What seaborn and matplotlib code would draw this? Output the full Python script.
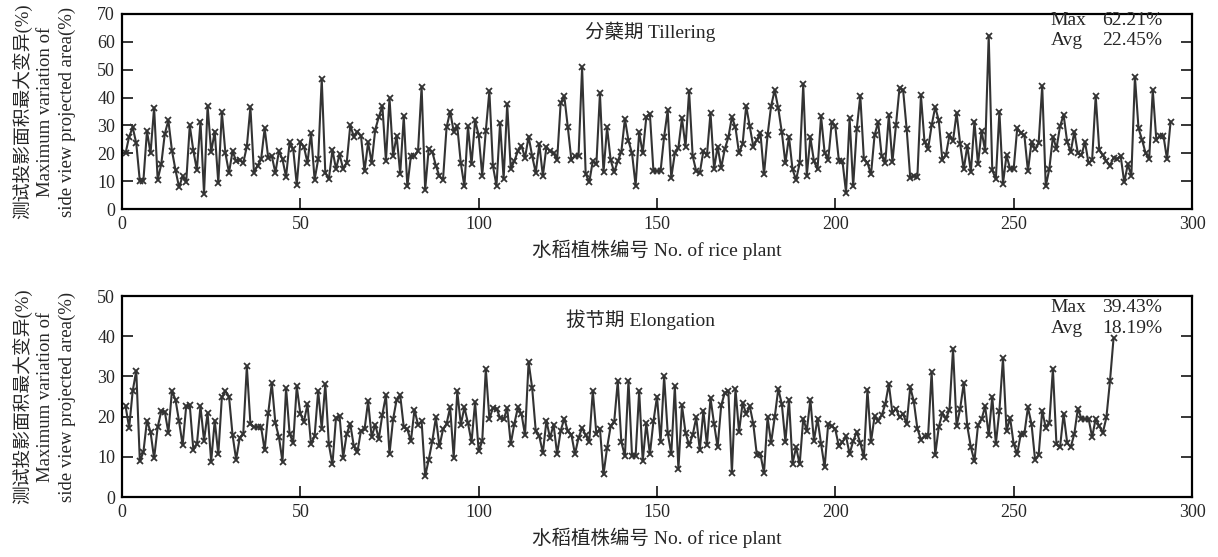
import numpy as np
import pandas as pd
import matplotlib
matplotlib.use("Agg")
import matplotlib.pyplot as plt
import seaborn as sns

# ---------------- data ----------------
tillering = [
    20, 26, 29.3, 23.6, 10, 10.2, 28, 20, 36.4, 10.5,
    16, 27, 31.8, 21, 14, 7.8, 11.8, 9.6, 30, 21,
    14, 31.4, 5.5, 37, 20.5, 27.8, 9.3, 34.8, 20, 13,
    20.8, 17.2, 17.6, 16.6, 22.4, 36.6, 13, 15.6, 17.8, 29,
    18.4, 19, 13, 20.8, 17.8, 11.5, 24, 21.5, 8.7, 24,
    22.4, 16.6, 27.3, 10.5, 17.8, 46.7, 13, 10.8, 21.2, 14.4,
    19.6, 14.4, 16.6, 30, 26, 27.8, 26.3, 13.6, 23.9, 16.6,
    28.5, 33, 37, 17.2, 39.9, 19, 26.3, 12.7, 33.3, 8.1,
    19, 19, 20.8, 43.9, 6.9, 21.7, 20.5, 15.6, 11.8, 10.5,
    29.3, 35, 27.8, 29.7, 16.4, 8.1, 29.7, 16, 31.8, 26.5,
    12, 28, 42.3, 15.4, 8.4, 30.9, 10.8, 37.6, 14.4, 17.2,
    20.8, 22.7, 18.4, 26, 19, 13, 23.3, 11.8, 22.4,
    20.8, 20, 17.6, 38.2, 40.6, 29.3, 17.6, 19, 19, 50.8,
    12.7, 9.6, 17.2, 16, 41.5, 13.2, 29.3, 17.6, 13.2, 17.2,
    20.5, 32.4, 24.5, 20, 8.4, 27.5, 20, 33, 34.2, 13.6,
    13.6, 13.6, 26, 35.4, 11.2, 20, 22, 32.6, 22.4, 42.3,
    19, 13.6, 13, 20.8, 19.3, 34.5, 14.4, 22.4, 14.8, 21.5,
    25.7, 33, 29.3, 20, 23.3, 37, 29.7, 22.4, 24.8,
    27.3, 12.4, 26.5, 37, 42.7, 36.2, 27.5, 16.4, 26, 14.2,
    10.5, 16.4, 44.7, 12, 25.7, 17.2, 14.2, 33.3, 20.2, 17.6,
    31.2, 29.7, 17.2, 17.2, 5.9, 32.6, 8.1, 28.7, 40.6, 18,
    16.6, 12.4, 26.5, 31.2, 19, 16.6, 33.6, 16.8, 30, 43.5,
    42.7, 28.7, 11.2, 11.8, 11.5, 40.8, 24.1, 21.5, 30, 36.6,
    31.8, 17.6, 19.3, 26.5, 24.5, 34.5, 23.3, 14.2, 22.7,
    13.2, 31.4, 16, 28.1, 20.8, 62.21, 13.9, 10.8, 35, 9.1,
    19.3, 14.4, 14.4, 29, 27.3, 26.5, 13.6, 24.1, 21.5, 23.6,
    44.2, 8.1, 14.4, 26, 21.7, 29.7, 33.8, 24.1, 20.5, 27.8,
    20, 19.3, 24.1, 16.4, 17.6, 40.6, 21.2, 19.3, 17.2, 15.6,
    18.4, 18, 19, 9.6, 16, 12, 47.5, 29, 24.8, 20,
    18, 42.7, 24.8, 26.3, 26.3, 17.8, 31.4,
]

elongation = [
    22.6, 17.2, 26.4, 31.4, 8.9, 11.2, 19, 16.2, 9.6, 17.4,
    21.3, 21.2, 16, 26.4, 24.2, 18.8, 12.9, 22.6, 22.8, 11.8,
    13.1, 22.6, 14, 20.9, 8.8, 19, 10.6, 24.8, 26.3, 25,
    15.4, 9.3, 14.7, 15.7, 32.5, 18.2, 17.4, 17.4, 17.4, 11.6,
    20.9, 28.3, 18.4, 14.9, 8.8, 27.1, 15.7, 13.5, 27.5, 20.7,
    18.7, 23.1, 13.1, 15.1, 26.4, 17, 28.1, 13.1, 8.1, 19.7,
    20.1, 9.8, 15.7, 18.2, 12.6, 11.2, 16.5, 16.8, 23.8, 14.9,
    18, 14.5, 20.5, 25.3, 10.7, 19.3, 24.2, 25.3, 17.4, 16.8,
    13.9, 21.7, 18, 18.8, 5.2, 9.3, 13.9, 19.8, 12.6, 16.8,
    18.2, 22.3, 9.8, 26.3, 18, 22.3, 18.4, 13.7, 23.6, 11.4,
    13.9, 31.9, 19.5, 22.1, 22, 19.7, 19.3, 22.1, 13.2, 18.2,
    22.3, 20.7, 15.4, 33.6, 27.1, 16.5, 15.1, 11, 19,
    14.7, 18, 10.7, 16.5, 19.5, 16.4, 15.5, 10.7, 14.7, 17.2,
    15.4, 13.7, 26.4, 15.7, 17, 5.6, 12.2, 17.6, 18.7, 28.8,
    13.7, 10.2, 28.9, 10.2, 10.2, 26.4, 8.9, 18.4, 10.6, 18.8,
    25, 13.7, 30, 16, 10.6, 27.5, 6.9, 22.8, 16, 12.9,
    15.4, 19.8, 11.6, 21.5, 12.9, 24.6, 18.2, 12.4, 22.8, 25.9,
    26.4, 6, 26.9, 16.2, 23.4, 20.7, 22.6, 18.2, 10.4,
    10.6, 6, 19.8, 13.5, 19.8, 26.9, 23.1, 13.7, 24.2, 8.3,
    12.4, 8.1, 19.5, 16.5, 24.2, 14, 19.5, 13.2, 7.4, 18.2,
    17.6, 16.8, 12.6, 13.7, 15.1, 10.7, 13.9, 16.2, 13.5, 9.9,
    26.7, 13.7, 20.1, 19, 20.3, 23.1, 28.1, 20.9, 22, 19.8,
    20.7, 18.2, 27.3, 23.8, 17, 14.3, 15.1, 15.1, 31.1, 10.4,
    17.4, 20.9, 19.5, 21.7, 36.9, 17.6, 22, 28.3, 17.6,
    12.4, 8.9, 17.9, 19.3, 22.6, 15.4, 25, 13.2, 21.5, 34.5,
    16.4, 19.7, 13.2, 10.7, 15.7, 15.7, 22.3, 18.2, 9.3, 10.4,
    21.5, 17.2, 18.4, 31.9, 13.1, 12.4, 20.7, 13.5, 12.4, 15.7,
    22, 19.5, 19.3, 19.5, 14.9, 19.5, 17.6, 16, 19.8, 28.8, 39.43,
]

panel_titles = ["分蘖期 Tillering", "拔节期 Elongation"]
max_texts = ["62.21%", "39.43%"]
avg_texts = ["22.45%", "18.19%"]
y_limits = [70, 50]
x_ticks = [0, 50, 100, 150, 200, 250, 300]
x_label = "水稻植株编号 No. of rice plant"
y_label = "测试投影面积最大变异(%)\nMaximum variation of\nside view projected area(%)"

# ---------------- style ----------------
sns.set_style("ticks")
plt.rcParams["font.family"] = ["Liberation Serif", "Noto Sans CJK SC", "DejaVu Sans"]
plt.rcParams["axes.unicode_minus"] = False

fig = plt.figure(figsize=(12.18, 5.57), dpi=100)
L, W = 122 / 1218, 1070 / 1218
ax_top = fig.add_axes([L, 1 - 209 / 557, W, 195 / 557])
ax_bot = fig.add_axes([L, 1 - 497 / 557, W, 201 / 557])

line_color = "#333333"
fs_tick = 13
fs_text = 14

for i, (ax, vals) in enumerate(zip([ax_top, ax_bot], [tillering, elongation])):
    df = pd.DataFrame({"plant": np.arange(1, len(vals) + 1), "value": vals})
    sns.lineplot(data=df, x="plant", y="value", ax=ax, color=line_color,
                 linewidth=1.5, marker="x", markersize=4.5,
                 markeredgewidth=1.3, markeredgecolor=line_color)
    ax.set_xlim(0, 300)
    ax.set_ylim(0, y_limits[i])
    ax.set_xticks(x_ticks)
    ax.set_yticks(np.arange(0, y_limits[i] + 1, 10))
    ax.tick_params(axis="both", direction="in", length=8, width=1.3,
                   labelsize=fs_tick, right=True, top=False, pad=5)
    ax.tick_params(axis="y", labelright=False)
    for sp in ax.spines.values():
        sp.set_visible(True)
        sp.set_linewidth(1.6)
        sp.set_color("black")
    ax.set_xlabel(x_label, fontsize=fs_text, labelpad=5)
    ax.set_ylabel(y_label, fontsize=13.5, linespacing=1.35)
    ax.yaxis.set_label_coords(-0.043, 0.5)
    ty = 0.907 if i == 0 else 0.88
    tx = 0.494 if i == 0 else 0.485
    ax.text(tx, ty, panel_titles[i], transform=ax.transAxes, ha="center",
            va="center", fontsize=fs_text)
    my = 0.965 if i == 0 else 0.942
    ay = 0.862 if i == 0 else 0.84
    ax.text(0.868, my, "Max", transform=ax.transAxes, ha="left", va="center", fontsize=fs_text)
    ax.text(0.972, my, max_texts[i], transform=ax.transAxes, ha="right", va="center", fontsize=fs_text)
    ax.text(0.868, ay, "Avg", transform=ax.transAxes, ha="left", va="center", fontsize=fs_text)
    ax.text(0.972, ay, avg_texts[i], transform=ax.transAxes, ha="right", va="center", fontsize=fs_text)

fig.savefig("out.png", dpi=100)
